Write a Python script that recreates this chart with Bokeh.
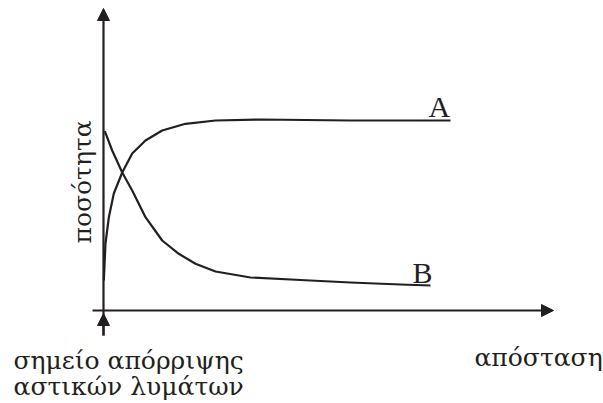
import math
from bokeh.plotting import figure
from bokeh.models import Arrow, NormalHead, Range1d
from bokeh.core.properties import value
from bokeh.embed import file_html
from bokeh.resources import INLINE

# Curve A (rises to a plateau)
distance_A = [0.007, 0.044, 0.118, 0.229, 0.416, 0.638, 0.933, 1.304, 1.822, 2.489, 3.489, 5.489, 7.711]
quantity_A = [1.0, 2.233, 3.1, 3.9, 4.6, 5.233, 5.667, 6.0, 6.223, 6.333, 6.367, 6.333, 6.333]

# Curve B (decays)
distance_B = [0.029, 0.193, 0.416, 0.638, 0.933, 1.304, 1.673, 2.044, 2.489, 3.267, 4.378, 5.489, 6.6, 7.267]
quantity_B = [5.977, 5.333, 4.6, 4.0, 3.11, 2.333, 1.89, 1.557, 1.3, 1.1, 1.017, 0.933, 0.867, 0.833]

y_label = "ποσότητα"
x_label = "απόσταση"
origin_label = ["σημείο απόρριψης", "αστικών λυμάτων"]
series_labels = ["A", "B"]

LATIN = value("Liberation Serif")
GREEK = value("DejaVu Serif")
FS = "30px"
GFS = "25px"
INK = "#231f20"

# scale: 45 px per distance unit, 30 px per quantity unit; origin at (103, 310) on screen
p = figure(width=603, height=403,
           x_range=Range1d(-103 / 45, 500 / 45),
           y_range=Range1d(-93 / 30, 310 / 30),
           output_backend="svg", toolbar_location=None, min_border=0,
           x_axis_location=None, y_axis_location=None)
p.grid.visible = False
p.outline_line_color = None
p.background_fill_color = "white"

# axes
def head():
    return NormalHead(size=12, fill_color=INK, line_color=INK, line_width=1)

p.add_layout(Arrow(x_start=0, y_start=-0.833, x_end=0, y_end=10.067,
                   line_width=2.2, line_color=INK, end=head()))
p.add_layout(Arrow(x_start=-0.244, y_start=0, x_end=10.0, y_end=0,
                   line_width=2.2, line_color=INK, end=head()))
p.add_layout(Arrow(x_start=0, y_start=-0.833, x_end=0, y_end=-0.1,
                   line_width=2.2, line_color=INK, end=head()))

p.line(distance_A, quantity_A, line_width=2.2, line_color=INK, line_join="round")
p.line(distance_B, quantity_B, line_width=2.2, line_color=INK, line_join="round")

# series labels
p.text(x=[7.222, 6.867], y=[6.8, 1.267], text=series_labels,
       text_font=LATIN, text_font_size=FS, text_color=INK,
       text_baseline="alphabetic", text_align="left")

# axis labels
p.text(x=[8.244], y=[-1.567], text=[x_label],
       text_font=GREEK, text_font_size=GFS, text_color=INK,
       text_baseline="alphabetic", text_align="left")
p.text(x=[-0.46], y=[2.233], text=[y_label], angle=math.pi / 2,
       text_font=GREEK, text_font_size=GFS, text_color=INK,
       text_baseline="alphabetic", text_align="left")
p.text(x=[-2.0, -2.0], y=[-1.667, -2.533], text=origin_label,
       text_font=GREEK, text_font_size=GFS, text_color=INK,
       text_baseline="alphabetic", text_align="left")

open("out.html", "w").write(file_html(p, INLINE))
